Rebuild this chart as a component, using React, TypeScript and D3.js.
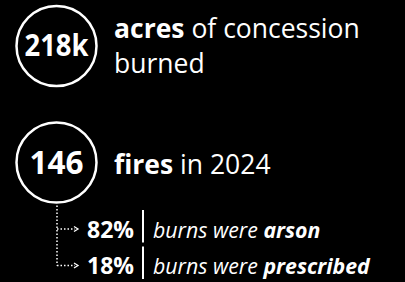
import React from "react";
import * as d3 from "d3";

// headline stats
const statValues = ["218k", "146"];
const statBold = ["acres", "fires"];
const statRest = [["of concession", "burned"], ["in 2024"]];
const statSizes = [30, 33];
const statWidths = [64, 54];

// breakdown of the fires
const breakdownShares = [82, 18];
const breakdownPrefix = ["burns were", "burns were"];
const breakdownBold = ["arson", "prescribed"];

const W = 405;
const H = 282;
const font = "'Open Sans', sans-serif";

export default function App() {
  const cx = 56.5;
  const r = 40;
  const statY = d3.scalePoint<number>().domain(d3.range(statValues.length)).range([46, 162.5]);
  const rowY = d3.scalePoint<number>().domain(d3.range(breakdownShares.length)).range([229, 265.5]);
  const lastStat = statY(statValues.length - 1)!;

  return (
    <svg width={W} height={H} style={{ position: "absolute", left: 0, top: 0, background: "#000" }}>
      <rect width={W} height={H} fill="#000" />
      {statValues.map((v, i) => {
        const y = statY(i)!;
        return (
          <g key={v}>
            <circle cx={cx} cy={y} r={r} fill="none" stroke="#fff" strokeWidth={2.5} />
            <text x={cx} y={y + 9.5 + i * 2} textAnchor="middle" fill="#fff"
              fontFamily={font} fontWeight={700} fontSize={statSizes[i]}
              textLength={statWidths[i]} lengthAdjust="spacingAndGlyphs">{v}</text>
            {statRest[i].map((line, j) => (
              <text key={j} x={114} y={y - 8 + j * 35 + (statRest[i].length === 1 ? 19 : 0)} fill="#fff" fontFamily={font} fontSize={26.5}>
                {j === 0 && <tspan fontWeight={700}>{statBold[i]} </tspan>}
                {line}
              </text>
            ))}
          </g>
        );
      })}
      {/* dotted connector */}
      <line x1={57} x2={57} y1={lastStat + r + 3} y2={rowY(breakdownShares.length - 1)!}
        stroke="#fff" strokeWidth={1.5} strokeDasharray="1.5 2" />
      {breakdownShares.map((s, i) => {
        const y = rowY(i)!;
        return (
          <g key={i}>
            <line x1={57} x2={75} y1={y} y2={y} stroke="#fff" strokeWidth={1.5} strokeDasharray="1.5 2" />
            <path d={`M${74},${y - 2.5}L${78},${y}L${74},${y + 2.5}`} fill="none" stroke="#fff" strokeWidth={1.3} />
            <text x={87} y={y + 8.5} fill="#fff" fontFamily={font} fontWeight={700} fontSize={23}>{s}%</text>
            <line x1={143} x2={143} y1={y - 19} y2={y + 13.5} stroke="#fff" strokeWidth={2} />
            <text x={153} y={y + 8.5} fill="#fff" fontFamily={font} fontStyle="italic" fontSize={21.3}>
              {breakdownPrefix[i]} <tspan fontWeight={700}>{breakdownBold[i]}</tspan>
            </text>
          </g>
        );
      })}
    </svg>
  );
}
